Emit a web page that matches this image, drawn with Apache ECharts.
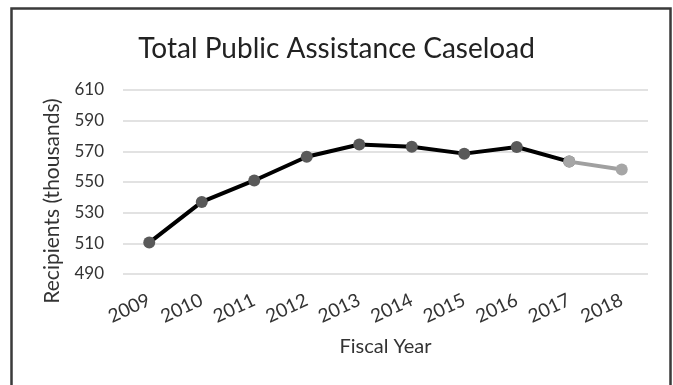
<!DOCTYPE html>
<html>
<head>
<meta charset="utf-8">
<script src="https://cdn.jsdelivr.net/npm/echarts@6/dist/echarts.min.js"></script>
<style>
html,body{margin:0;padding:0;background:#fff;}
#main{width:673px;height:385px;}
</style>
</head>
<body>
<div id="main"></div>
<script>
var years = ['2009','2010','2011','2012','2013','2014','2015','2016','2017','2018'];
var actual = [510.5, 537, 551, 566.5, 574.5, 573, 568.5, 572.8, 563.3, null];
var projected = [null, null, null, null, null, null, null, null, 563.3, 558.2];
var yTicks = [490, 510, 530, 550, 570, 590, 610];

var chart = echarts.init(document.getElementById('main'), null, {renderer: 'canvas'});
var font = 'Lato, "Open Sans", sans-serif';
chart.setOption({
  animation: false,
  backgroundColor: '#fff',
  title: {
    text: 'Total Public Assistance Caseload',
    left: 'center',
    top: 30,
    textStyle: {fontFamily: font, fontSize: 28, fontWeight: 'normal', color: '#222'}
  },
  graphic: [{
    type: 'rect',
    shape: {x: 11.5, y: 8.5, width: 659, height: 400},
    style: {fill: 'none', stroke: '#3a3a3a', lineWidth: 2.5},
    silent: true
  }],
  grid: {left: 123, right: 25, top: 90, bottom: 111},
  xAxis: {
    type: 'category',
    data: years,
    boundaryGap: true,
    name: 'Fiscal Year',
    nameLocation: 'middle',
    nameGap: 63,
    nameTextStyle: {fontFamily: font, fontSize: 20, color: '#333'},
    axisLine: {show: false},
    axisTick: {show: false},
    axisLabel: {interval: 0, rotate: 25, fontFamily: font, fontSize: 19, color: '#333', margin: 25}
  },
  yAxis: {
    type: 'value',
    min: yTicks[0],
    max: yTicks[yTicks.length - 1],
    interval: 20,
    name: 'Recipients (thousands)',
    nameLocation: 'middle',
    nameGap: 60,
    nameRotate: 90,
    nameTextStyle: {fontFamily: font, fontSize: 21, color: '#333', padding: [0, 38, 0, 0]},
    axisLine: {show: false},
    axisTick: {show: false},
    axisLabel: {fontFamily: font, fontSize: 17, color: '#333', margin: 19},
    splitLine: {lineStyle: {color: '#d9d9d9', width: 1.5}}
  },
  series: [{
    type: 'line',
    data: actual,
    symbol: 'circle',
    symbolSize: 12,
    itemStyle: {color: '#595959'},
    lineStyle: {color: '#000', width: 4},
    z: 3
  }, {
    type: 'line',
    data: projected,
    symbol: 'circle',
    symbolSize: 12,
    itemStyle: {color: '#a6a6a6'},
    lineStyle: {color: '#a0a0a0', width: 4},
    z: 4
  }]
});
</script>
</body>
</html>
